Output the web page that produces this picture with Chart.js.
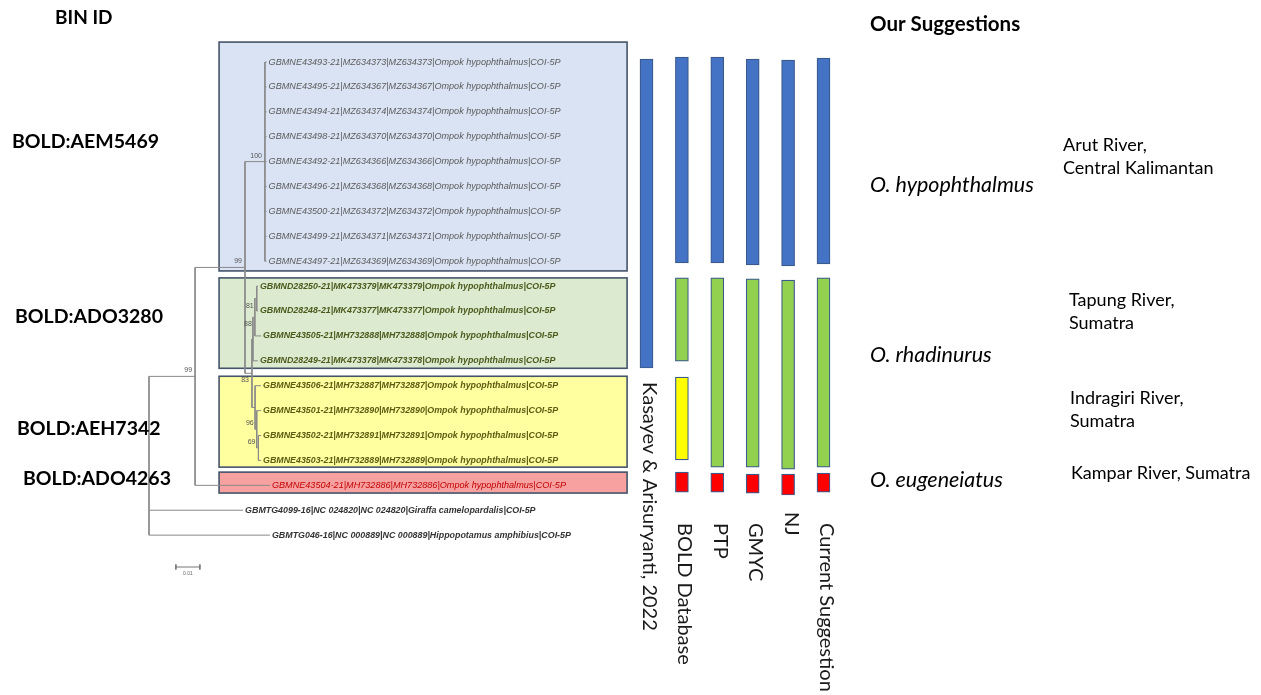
<!DOCTYPE html>
<html>
<head>
<meta charset="utf-8">
<script src="https://cdn.jsdelivr.net/npm/chart.js@4.4.1/dist/chart.umd.min.js"></script>
<style>
  html, body { margin: 0; padding: 0; background: #fff; }
  #wrap { width: 1261px; height: 695px; position: relative; }
</style>
</head>
<body>
<div id="wrap"><canvas id="myChart"></canvas></div>
<script>
// ---- tree tips, top to bottom (row = index) ----
const tipNames = [
  "GBMNE43493-21|MZ634373|MZ634373|Ompok hypophthalmus|COI-5P",
  "GBMNE43495-21|MZ634367|MZ634367|Ompok hypophthalmus|COI-5P",
  "GBMNE43494-21|MZ634374|MZ634374|Ompok hypophthalmus|COI-5P",
  "GBMNE43498-21|MZ634370|MZ634370|Ompok hypophthalmus|COI-5P",
  "GBMNE43492-21|MZ634366|MZ634366|Ompok hypophthalmus|COI-5P",
  "GBMNE43496-21|MZ634368|MZ634368|Ompok hypophthalmus|COI-5P",
  "GBMNE43500-21|MZ634372|MZ634372|Ompok hypophthalmus|COI-5P",
  "GBMNE43499-21|MZ634371|MZ634371|Ompok hypophthalmus|COI-5P",
  "GBMNE43497-21|MZ634369|MZ634369|Ompok hypophthalmus|COI-5P",
  "GBMND28250-21|MK473379|MK473379|Ompok hypophthalmus|COI-5P",
  "GBMND28248-21|MK473377|MK473377|Ompok hypophthalmus|COI-5P",
  "GBMNE43505-21|MH732888|MH732888|Ompok hypophthalmus|COI-5P",
  "GBMND28249-21|MK473378|MK473378|Ompok hypophthalmus|COI-5P",
  "GBMNE43506-21|MH732887|MH732887|Ompok hypophthalmus|COI-5P",
  "GBMNE43501-21|MH732890|MH732890|Ompok hypophthalmus|COI-5P",
  "GBMNE43502-21|MH732891|MH732891|Ompok hypophthalmus|COI-5P",
  "GBMNE43503-21|MH732889|MH732889|Ompok hypophthalmus|COI-5P",
  "GBMNE43504-21|MH732886|MH732886|Ompok hypophthalmus|COI-5P",
  "GBMTG4099-16|NC 024820|NC 024820|Giraffa camelopardalis|COI-5P",
  "GBMTG046-16|NC 000889|NC 000889|Hippopotamus amphibius|COI-5P"
];
// 0 blue clade, 1 green, 2 yellow, 3 red, 4 outgroup
const tipGroup = [0,0,0,0,0,0,0,0,0, 1,1,1,1, 2,2,2,2, 3, 4,4];
// distance from root (substitutions/site)
const tipDepth = [0.049,0.049,0.049,0.049,0.049,0.049,0.049,0.049,0.049,
                  0.0454,0.0454,0.0467,0.0454,
                  0.0467,0.0467,0.0467,0.0467,
                  0.0504, 0.0392, 0.0504];

// ---- internal nodes ----
const nodeNames   = ["root", "n99a", "n99b", "blue", "n83", "green", "g88", "g81", "yellow", "y96", "y69"];
const nodeDepth   = [0, 0.0192, 0.0400, 0.0483, 0.0429, 0.0433, 0.0441, 0.0449, 0.0442, 0.0449, 0.0456];
const nodeSupport = [null, 99, 99, 100, 83, null, 88, 81, null, 96, 69];
const nodeChildren = [
  ["n99a", 18, 19],
  ["n99b", 17],
  ["blue", "n83"],
  [0, 1, 2, 3, 4, 5, 6, 7, 8],
  ["green", "yellow"],
  ["g88", 12],
  ["g81", 11],
  [9, 10],
  [13, "y96"],
  [14, "y69"],
  [15, 16]
];
const scaleBar = 0.01;

// ---- clade boxes, row span ----
const boxRows = [[-0.8, 8.39], [8.67, 12.3], [12.62, 16.27], [16.47, 17.31]];
const boxDepth = [0.0292, 0.1992];

// ---- delimitation methods, row spans of each species bar ----
const methods = ["Kasayev & Arisuryanti, 2022", "BOLD Database", "PTP", "GMYC", "NJ", "Current Suggestion"];
const blueBars   = [[-0.12, 12.29], [-0.2, 8.07], [-0.2, 8.07], [-0.12, 8.15], [-0.08, 8.19], [-0.16, 8.11]];
const greenBars  = [null, [8.67, 12.01], [8.67, 16.27], [8.71, 16.27], [8.76, 16.35], [8.67, 16.27]];
const yellowBars = [null, [12.65, 15.98], null, null, null, null];
const redBars    = [null, [16.47, 17.27], [16.51, 17.27], [16.55, 17.31], [16.55, 17.39], [16.51, 17.27]];

// ---- text ----
const binIds = ["BOLD:AEM5469", "BOLD:ADO3280", "BOLD:AEH7342", "BOLD:ADO4263"];
const binRows = [3.2, 10.24, 14.74, 16.75];
const species = ["O. hypophthalmus", "O. rhadinurus", "O. eugeneiatus"];
const speciesRows = [4.94, 11.77, 16.8];
const localities = [["Arut River,", "Central Kalimantan"], ["Tapung River,", "Sumatra"], ["Indragiri River,", "Sumatra"], ["Kampar River, Sumatra"]];
const localityRows = [3.33, 9.56, 13.5, 16.5];

// layout / styles
const boxFill = ["#dae3f3", "#dcebcf", "#ffffa0", "#f7a1a1"];
const barFill = ["#4472c4", "#92d050", "#ffff00", "#ff0000"];
const tipColor = ["#5a5a5a", "#4b5a1c", "#5c5c12", "#c00000", "#333333"];
const tipFont = ["italic 9.1px 'Liberation Sans'", "italic bold 8.85px 'Liberation Sans'", "italic bold 8.85px 'Liberation Sans'",
                 "italic 9.1px 'Liberation Sans'", "italic bold 8.9px 'Liberation Sans'"];
const supportBelow = ["n83", "g88", "g81"];
const methodLabelTop = [382, 523, 523, 523, 512, 523];
const binLeft = [12, 15, 17, 23];
const localityLeft = [1063, 1069, 1070, 1071];

// ---- build tree segments ----
const childPos = (c) => {
  if (typeof c === "number") return { x: tipDepth[c], y: c };
  return nodePos(nodeNames.indexOf(c));
};
const nodePos = (k) => {
  const ch = nodeChildren[k].map(childPos);
  return { x: nodeDepth[k], y: (ch[0].y + ch[ch.length - 1].y) / 2, children: ch };
};
const gap = { x: null, y: null };
const treeSegments = [];
nodeNames.forEach((n, k) => {
  const p = nodePos(k);
  const ys = p.children.map(c => c.y);
  treeSegments.push({ x: p.x, y: Math.min(...ys) }, { x: p.x, y: Math.max(...ys) }, gap);
  p.children.forEach(c => {
    treeSegments.push({ x: p.x, y: c.y }, { x: c.x, y: c.y }, gap);
  });
});
const sbStart = 0.0112, sbRow = 20.28;
const scaleSegments = [
  { x: sbStart, y: sbRow }, { x: sbStart + scaleBar, y: sbRow }, gap,
  { x: sbStart, y: sbRow - 0.1 }, { x: sbStart, y: sbRow + 0.1 }, gap,
  { x: sbStart + scaleBar, y: sbRow - 0.1 }, { x: sbStart + scaleBar, y: sbRow + 0.1 }
];

const barData = (ranges) => ranges.map((r, i) => r ? { x: i, y: r } : null).filter(Boolean);
const barSet = (ranges, color) => ({
  type: "bar",
  data: barData(ranges),
  xAxisID: "xM",
  yAxisID: "y",
  backgroundColor: color,
  borderColor: "#3a5a8c",
  borderWidth: 1.2,
  borderSkipped: false,
  barThickness: 13,
  grouped: false
});

const text = (ctx, str, x, y, font, color, align, baseline) => {
  ctx.font = font;
  ctx.fillStyle = color;
  ctx.textAlign = align || "left";
  ctx.textBaseline = baseline || "middle";
  ctx.fillText(str, x, y);
};

const annotate = {
  id: "annotate",
  beforeDatasetsDraw(chart) {
    const ctx = chart.ctx;
    const xT = chart.scales.xT, y = chart.scales.y;
    ctx.save();
    boxRows.forEach((r, i) => {
      const x0 = xT.getPixelForValue(boxDepth[0]), x1 = xT.getPixelForValue(boxDepth[1]);
      const y0 = y.getPixelForValue(r[0]), y1 = y.getPixelForValue(r[1]);
      ctx.fillStyle = boxFill[i];
      ctx.fillRect(x0, y0, x1 - x0, y1 - y0);
      ctx.strokeStyle = "#44546a";
      ctx.lineWidth = 1.6;
      ctx.strokeRect(x0, y0, x1 - x0, y1 - y0);
    });
    ctx.restore();
  },
  afterDatasetsDraw(chart) {
    const ctx = chart.ctx;
    const xT = chart.scales.xT, xM = chart.scales.xM, y = chart.scales.y;
    ctx.save();
    // tip labels
    tipNames.forEach((t, i) => {
      const g = tipGroup[i];
      text(ctx, t, xT.getPixelForValue(tipDepth[i]) + 2, y.getPixelForValue(i), tipFont[g], tipColor[g]);
    });
    // bootstrap support
    nodeNames.forEach((n, k) => {
      if (nodeSupport[k] == null) return;
      const p = nodePos(k);
      const below = supportBelow.includes(n);
      text(ctx, String(nodeSupport[k]), xT.getPixelForValue(p.x) - 3, y.getPixelForValue(p.y) + (below ? 7 : -6),
           "7px 'Liberation Sans'", "#555555", "right");
    });
    text(ctx, "0.01", xT.getPixelForValue(sbStart + scaleBar / 2), y.getPixelForValue(sbRow) + 7,
         "5px 'Liberation Sans'", "#666666", "center");
    // headers
    text(ctx, "BIN ID", 55, 18, "bold 19px Lato", "#000");
    text(ctx, "Our Suggestions", 870, 24, "bold 20.5px Lato", "#000");
    binIds.forEach((b, i) => text(ctx, b, binLeft[i], y.getPixelForValue(binRows[i]), "bold 19.5px Lato", "#000"));
    species.forEach((s, i) => text(ctx, s, 870, y.getPixelForValue(speciesRows[i]), "italic 21.5px Lato", "#000"));
    localities.forEach((lines, i) => {
      lines.forEach((l, j) => text(ctx, l, localityLeft[i], y.getPixelForValue(localityRows[i]) + j * 23, "18px Lato", "#000"));
    });
    // method labels, rotated
    methods.forEach((m, i) => {
      ctx.save();
      ctx.translate(xM.getPixelForValue(i) + 3, methodLabelTop[i]);
      ctx.rotate(Math.PI / 2);
      text(ctx, m, 0, 0, "20px Lato", "#1a1a1a", "left", "middle");
      ctx.restore();
    });
    ctx.restore();
  }
};

const ctx = document.getElementById("myChart");
const myChart = new Chart(ctx, {
  type: "bar",
  data: {
    datasets: [
      {
        type: "line",
        data: treeSegments,
        xAxisID: "xT",
        yAxisID: "y",
        borderColor: "#8a8a8a",
        borderWidth: 1,
        pointRadius: 0,
        spanGaps: false,
        tension: 0
      },
      {
        type: "line",
        data: scaleSegments,
        xAxisID: "xT",
        yAxisID: "y",
        borderColor: "#777777",
        borderWidth: 1,
        pointRadius: 0,
        spanGaps: false
      },
      barSet(blueBars, barFill[0]),
      barSet(greenBars, barFill[1]),
      barSet(yellowBars, barFill[2]),
      barSet(redBars, barFill[3])
    ]
  },
  options: {
    responsive: true,
    maintainAspectRatio: false,
    animation: false,
    devicePixelRatio: 1,
    layout: { padding: 0 },
    plugins: { legend: { display: false }, tooltip: { enabled: false } },
    scales: {
      xT: { type: "linear", display: false, offset: false, min: -0.06208, max: 0.46333 },
      xM: { type: "linear", display: false, offset: false, min: -18.263, max: 17.359 },
      y:  { type: "linear", display: false, reverse: true, min: -2.49, max: 25.42 }
    }
  },
  plugins: [annotate]
});
</script>
</body>
</html>
